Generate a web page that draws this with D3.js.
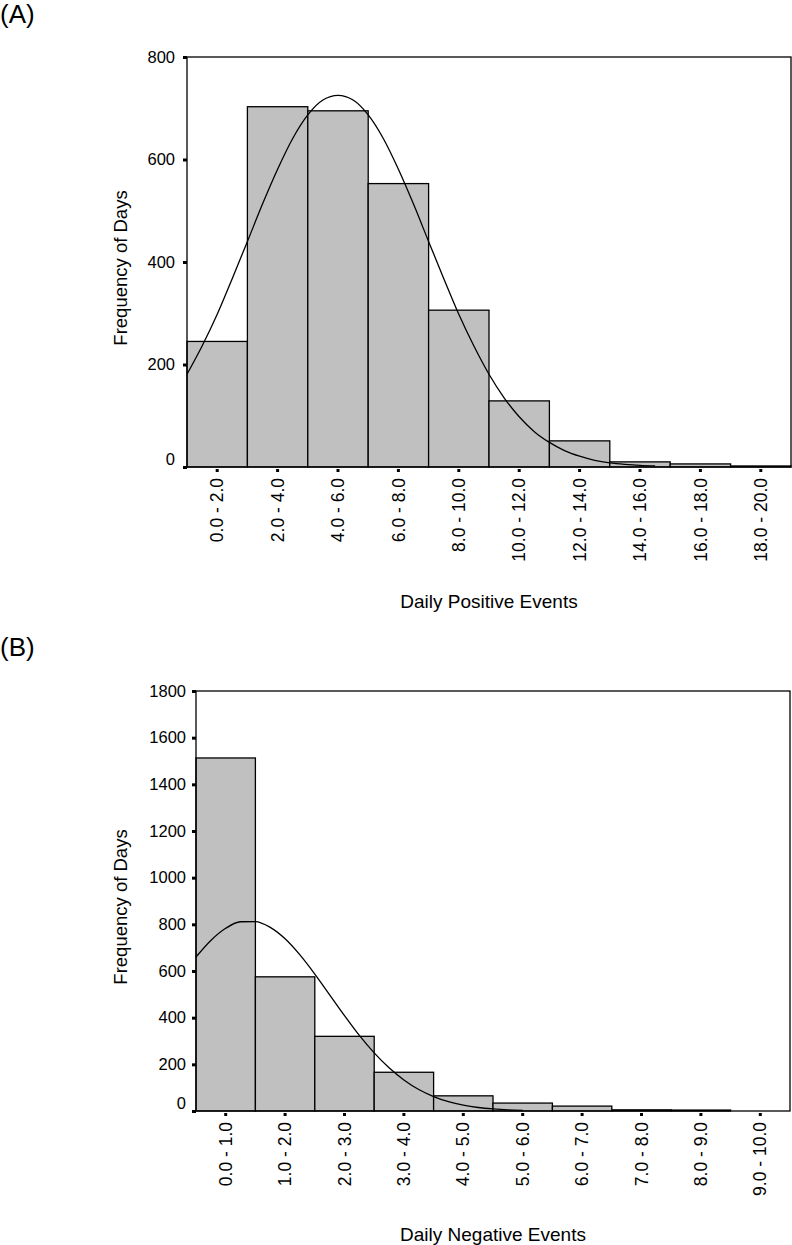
<!DOCTYPE html>
<html><head><meta charset="utf-8">
<script src="https://cdn.jsdelivr.net/npm/d3@7"></script>
<style>
body{margin:0;background:#fff}
svg{display:block}
text{font-family:"Liberation Sans",Arial,sans-serif;fill:#000}
</style>
</head><body>
<svg id="c" width="792" height="1245"></svg>
<script>
// ---------- Panel A data ----------
const binsA = ["0.0 - 2.0","2.0 - 4.0","4.0 - 6.0","6.0 - 8.0","8.0 - 10.0","10.0 - 12.0","12.0 - 14.0","14.0 - 16.0","16.0 - 18.0","18.0 - 20.0"];
const freqA = [245, 703, 695, 553, 306, 129, 51, 10, 6, 2];
const yTicksA = [0, 200, 400, 600, 800];
// fitted normal curve (x in events, y in days)
const curveAx = [0,0.5,1,1.5,2,2.5,3,3.5,4,4.5,5,5.5,6,6.5,7,7.5,8,8.5,9,9.5,10,10.5,11,11.5,12,12.5,13,13.5,14,14.5,15,15.5];
const curveAy = [181,236,298,368,440,513,581,641,687,716,725,716,687,641,581,513,440,368,298,236,181,135,98,69,48,32,21,13,8,5,3,2];

// ---------- Panel B data ----------
const binsB = ["0.0 - 1.0","1.0 - 2.0","2.0 - 3.0","3.0 - 4.0","4.0 - 5.0","5.0 - 6.0","6.0 - 7.0","7.0 - 8.0","8.0 - 9.0","9.0 - 10.0"];
const freqB = [1513, 575, 320, 166, 65, 34, 21, 5, 4, 0];
const yTicksB = [0, 200, 400, 600, 800, 1000, 1200, 1400, 1600, 1800];
const curveBx = [0,0.25,0.5,0.75,1,1.25,1.5,1.75,2,2.25,2.5,2.75,3,3.25,3.5,3.75,4,4.25,4.5,4.75,5,5.25,5.5];
const curveBy = [660,731,783,811,812,787,738,669,587,498,409,324,249,185,133,92,62,40,25,15,9,5,3];

const svg = d3.select("#c");
const SW = 1.3;

function panel(o){
  const g = svg.append("g");
  const x = d3.scaleBand().domain(o.bins).range([o.left, o.right]).padding(0);
  const xv = d3.scaleLinear().domain(o.xDomain).range([o.left, o.right]);
  const y = d3.scaleLinear().domain([0, o.yMax]).range([o.bottom, o.top]);

  // bars
  g.selectAll("rect.bar").data(o.freq).join("rect").attr("class","bar")
    .attr("x",(d,i)=>x(o.bins[i])).attr("width",x.bandwidth())
    .attr("y",d=>y(d)).attr("height",d=>y(0)-y(d))
    .attr("fill","#c0c0c0").attr("stroke","#000").attr("stroke-width",SW);

  // normal curve
  const line = d3.line().x(d=>xv(d[0])).y(d=>y(d[1])).curve(d3.curveMonotoneX);
  g.append("path").datum(d3.zip(o.cx, o.cy)).attr("d", line)
    .attr("fill","none").attr("stroke","#000").attr("stroke-width",SW);

  // frame
  g.append("rect").attr("x",o.left).attr("y",o.top)
    .attr("width",o.right-o.left).attr("height",o.bottom-o.top)
    .attr("fill","none").attr("stroke","#000").attr("stroke-width",SW);

  // y axis
  const ya = g.append("g").attr("transform",`translate(${o.left},0)`)
    .call(d3.axisLeft(y).tickValues(o.yTicks).tickSize(4).tickPadding(o.yPad).tickFormat(d3.format("d")));
  ya.select(".domain").remove();
  ya.selectAll(".tick line").attr("stroke","#000").attr("stroke-width",3);
  ya.selectAll(".tick text").attr("font-size",16.5).attr("font-family",null);
  ya.selectAll(".tick text").filter(d=>d===0).attr("dy","-0.18em");

  // x axis
  const xa = g.append("g").attr("transform",`translate(0,${o.bottom})`)
    .call(d3.axisBottom(x).tickSize(5));
  xa.select(".domain").remove();
  xa.selectAll(".tick line").attr("y1",2).attr("y2",5).attr("stroke","#000").attr("stroke-width",3);
  xa.selectAll(".tick text").attr("font-size",17.5).attr("font-family",null)
    .attr("transform","rotate(-90)").attr("text-anchor","end")
    .attr("x",-11).attr("y",0).attr("dy","0.35em");

  // titles
  g.append("text").attr("x",(o.left+o.right)/2).attr("y",o.xTitleY)
    .attr("text-anchor","middle").attr("font-size",19).text(o.xTitle);
  g.append("text").attr("transform",`translate(127,${(o.top+o.bottom)/2+6}) rotate(-90)`)
    .attr("text-anchor","middle").attr("font-size",18.5).text("Frequency of Days");
  g.append("text").attr("x",0).attr("y",o.tagY).attr("font-size",26).text(o.tag);
}

panel({bins:binsA, freq:freqA, cx:curveAx, cy:curveAy, xDomain:[0,20], yMax:800, yTicks:yTicksA,
  left:187, right:791, top:57, bottom:467, yPad:8, xTitle:"Daily Positive Events", xTitleY:608, tag:"(A)", tagY:23});
panel({bins:binsB, freq:freqB, cx:curveBx, cy:curveBy, xDomain:[0,10], yMax:1800, yTicks:yTicksB,
  left:196, right:790, top:691, bottom:1111, yPad:6, xTitle:"Daily Negative Events", xTitleY:1241, tag:"(B)", tagY:656});
</script>
</body></html>
